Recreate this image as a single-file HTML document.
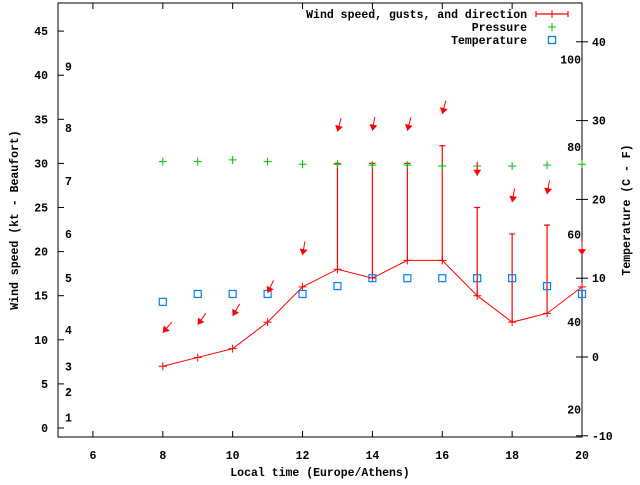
<!DOCTYPE html>
<html><head><meta charset="utf-8"><style>
body{margin:0;background:#fff}
svg text{font-family:"Liberation Mono",monospace;font-weight:bold;font-size:11.5px;fill:#000}
</style></head><body>
<svg width="640" height="480" viewBox="0 0 640 480">
<g id="axes"></g>
<g id="marks"></g>
<g id="legend"></g>
</svg>
<script>
const hours=[8,9,10,11,12,13,14,15,16,17,18,19,20];
const speed=[7,8,9,12,16,18,17,19,19,15,12,13,16];
const gust=[7,8,9,12,16,30,30,30,32,25,22,23,16];
const pressure=[30.2,30.2,30.4,30.2,29.9,29.9,29.8,29.8,29.7,29.7,29.7,29.8,29.9];
const tempC=[7,8,8,8,8,9,10,10,10,10,10,9,8];
const dirFrom=[40,35,30,25,10,15,10,15,15,0,10,10,0];
const arrowKt=[10.8,11.7,12.7,15.3,19.6,33.6,33.7,33.7,35.6,28.6,25.6,26.5,19.6];
const xTicks=[6,8,10,12,14,16,18,20];
const yTicks=[0,5,10,15,20,25,30,35,40,45];
const cTicks=[-10,0,10,20,30,40];
const fTicks=[20,40,60,80,100];
const bftLabels=['1','2','3','4','5','6','7','8','9'];
const bftKt=[1.2,4.1,7,11.1,17,22,28,34,41];

const L=58,R=582,T=3,B=437;
const X=h=>L+(h-5)*(R-L)/15;
const Y=k=>428-k*8.82;
const YC=c=>357-c*7.88;
const NS='http://www.w3.org/2000/svg';
function mk(parent,tag,attrs,txt){const e=document.createElementNS(NS,tag);for(const k in attrs)e.setAttribute(k,attrs[k]);if(txt!=null)e.textContent=txt;parent.appendChild(e);return e;}
const ax=document.getElementById('axes'),mg=document.getElementById('marks'),lg=document.getElementById('legend');

let e=mk(ax,'rect',{x:L,y:T,width:R-L,height:B-T,fill:'none',stroke:'#000','stroke-width':1});


xTicks.forEach(v=>{
  const x=X(v);
  mk(ax,'line',{x1:x,y1:B,x2:x,y2:B-6,stroke:'#000'});
  mk(ax,'line',{x1:x,y1:T,x2:x,y2:T+6,stroke:'#000'});
  e=mk(ax,'text',{x:x,y:B+22,'text-anchor':'middle'},v);
  
  
});
yTicks.forEach(v=>{
  const y=Y(v);
  mk(ax,'line',{x1:L,y1:y,x2:L+6,y2:y,stroke:'#000'});
  e=mk(ax,'text',{x:L-10,y:y+4,'text-anchor':'end'},v);
  
  
});
cTicks.forEach(v=>{
  const y=YC(v);
  mk(ax,'line',{x1:R-6,y1:y,x2:R+6,y2:y,stroke:'#000'});
  e=mk(ax,'text',{x:R+10,y:y+4},v);
  
  
});
fTicks.forEach(v=>{
  const y=YC((v-32)*5/9);
  e=mk(ax,'text',{x:R-1,y:y+4,'text-anchor':'end'},v);
  
  
});
bftLabels.forEach((t,i)=>{
  e=mk(ax,'text',{x:65,y:Y(bftKt[i])+4},t);
  
  
});
e=mk(ax,'text',{x:320,y:476,'text-anchor':'middle'},'Local time (Europe/Athens)');


e=mk(ax,'text',{x:0,y:0,'text-anchor':'middle',transform:'translate(18,220) rotate(-90)'},'Wind speed (kt - Beaufort)');


e=mk(ax,'text',{x:0,y:0,'text-anchor':'middle',transform:'translate(630,210) rotate(-90)'},'Temperature (C - F)');



function plus(g,x,y,c){mk(g,'path',{d:`M${x-4},${y}H${x+4}M${x},${y-4}V${y+4}`,stroke:c,'stroke-width':1,fill:'none'});}

// speed line
e=mk(mg,'polyline',{points:hours.map((h,i)=>X(h)+','+Y(speed[i])).join(' '),fill:'none',stroke:'#f00','stroke-width':1});


hours.forEach((h,i)=>{
  const x=X(h);
  if(gust[i]>speed[i]){
    e=mk(mg,'path',{d:`M${x},${Y(speed[i])}V${Y(gust[i])}M${x-3},${Y(gust[i])}H${x+3}`,stroke:'#f00','stroke-width':1.2,fill:'none'});
    
    
  }
  plus(mg,x,Y(speed[i]),'#f00');
  plus(mg,x,Y(pressure[i]),'#00c000');
  e=mk(mg,'rect',{x:x-3.5,y:YC(tempC[i])-3.5,width:7,height:7,fill:'none',stroke:'#0080ff','stroke-width':1.2});
  
  
  // direction arrow
  const th=dirFrom[i]*Math.PI/180,dx=-Math.sin(th),dy=Math.cos(th);
  const tx=x,ty=Y(arrowKt[i]),sx=tx-dx*14,sy=ty-dy*14;
  const px=-dy,py=dx;
  e=mk(mg,'g',{});
  
  
  mk(e,'line',{x1:sx,y1:sy,x2:tx,y2:ty,stroke:'#f00','stroke-width':1});
  mk(e,'polygon',{points:`${tx},${ty} ${tx-dx*6+px*4},${ty-dy*6+py*4} ${tx-dx*6-px*4},${ty-dy*6-py*4}`,fill:'#f00'});
});

// legend
const leg=[['Wind speed, gusts, and direction',14],['Pressure',27],['Temperature',40]];
leg.forEach((l,i)=>{
  e=mk(lg,'text',{x:527,y:l[1]+4,'text-anchor':'end'},l[0]);
  
  
});
mk(lg,'path',{d:'M536,14H568M536,11V17M568,11V17',stroke:'#f00','stroke-width':1.2,fill:'none'});
plus(lg,552,14,'#f00');
plus(lg,552,27,'#00c000');
mk(lg,'rect',{x:548.5,y:36.5,width:7,height:7,fill:'none',stroke:'#0080ff','stroke-width':1.2});
</script>
</body></html>
